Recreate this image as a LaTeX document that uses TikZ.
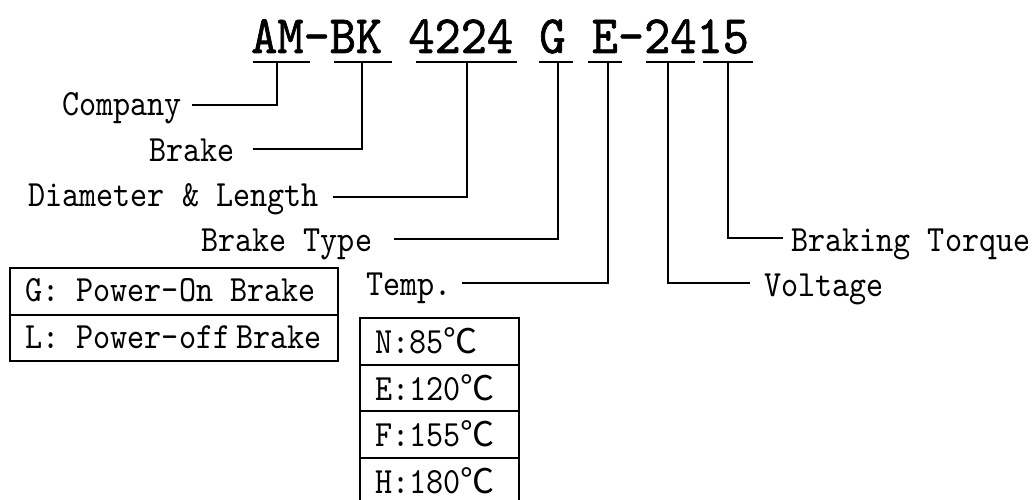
\documentclass[tikz,border=0pt]{standalone}
\usepackage{fontspec}
\newfontfamily\titlef{lmmono10-regular.otf}[FakeStretch=0.924,FakeBold=1.2]
\newfontfamily\bodyf{lmmono10-regular.otf}[FakeStretch=0.88]
\newfontfamily\cjkf{Noto Sans CJK SC}
\newcommand\degC{{\cjkf\fontsize{34}{34}\selectfont ℃}}
\begin{document}
\begin{tikzpicture}[x=1pt,y=-1pt,
  lbl/.style={inner sep=0pt, anchor=base west, font=\bodyf\fontsize{37}{37}\selectfont},
  conn/.style={draw=black, line width=1.8pt},
  uline/.style={draw=black, line width=2pt},
  frame/.style={draw=black, line width=1.8pt}]
\useasboundingbox (0,0) rectangle (1036,500);

% title
\node[inner sep=0pt, anchor=base west, font=\titlef\fontsize{54}{54}\selectfont] (title) at (251,53) {AM-BK 4224 G E-2415};

% underline segments
\coordinate (a1) at (252.7,61.7); \coordinate (b1) at (310,61.7);
\coordinate (a2) at (334,61.7);   \coordinate (b2) at (391.7,61.7);
\coordinate (a3) at (416,61.7);   \coordinate (b3) at (517,61.7);
\coordinate (a4) at (539,61.7);   \coordinate (b4) at (573,61.7);
\coordinate (a5) at (588,61.7);   \coordinate (b5) at (621.7,61.7);
\coordinate (a6) at (646,61.7);   \coordinate (b6) at (695,61.7);
\coordinate (a7) at (703,61.7);   \coordinate (b7) at (753,61.7);
\foreach \i in {1,...,7} { \draw[uline] (a\i) -- (b\i); }

% tick points on underlines
\coordinate (t1) at (276.7,61.7);
\coordinate (t2) at (361.7,61.7);
\coordinate (t3) at (466.7,61.7);
\coordinate (t4) at (557.7,61.7);
\coordinate (t5) at (607.7,61.7);
\coordinate (t6) at (668,61.7);
\coordinate (t7) at (727.7,61.7);

% joints
\coordinate (j1) at (276.7,105);
\coordinate (j2) at (361.7,149);
\coordinate (j3) at (466.7,196.7);
\coordinate (j4) at (557.7,239);
\coordinate (j5) at (607.7,283);
\coordinate (j6) at (668,283);
\coordinate (j7) at (727.7,238);

% labels
\node[lbl] (company) at (62,115.7) {Company};
\node[lbl] (brake) at (149,161) {Brake};
\node[lbl] (diam) at (28,206) {Diameter \& Length};
\node[lbl] (btype) at (201,251) {Brake Type};
\node[lbl] (temp) at (366,295) {Temp.};
\node[lbl] (torque) at (791,251.7) {Braking Torque};
\node[lbl] (volt) at (764,296.7) {Voltage};

% connectors
\draw[conn] ([xshift=10pt]company.east |- j1) -- (j1) -- (t1);
\draw[conn] ([xshift=18pt]brake.east |- j2) -- (j2) -- (t2);
\draw[conn] ([xshift=14pt]diam.east |- j3) -- (j3) -- (t3);
\draw[conn] ([xshift=22pt]btype.east |- j4) -- (j4) -- (t4);
\draw[conn] ([xshift=10pt]temp.east |- j5) -- (j5) -- (t5);
\draw[conn] ([xshift=-14pt]volt.west |- j6) -- (j6) -- (t6);
\draw[conn] ([xshift=-8pt]torque.west |- j7) -- (j7) -- (t7);

% brake type box
\draw[frame] (10,267.7) rectangle (338,361);
\draw[frame] (10,315) -- (338,315);
\node[lbl] (gon) at (25,301.7) {G: Power-On Brake};
\node[lbl] (loff) at (25,348.3) {L: Power-off\hspace*{6pt}Brake};

% temperature table
\draw[frame] (360,317.7) rectangle (519,506);
\draw[frame] (360,365) -- (519,365);
\draw[frame] (360,411) -- (519,411);
\draw[frame] (360,458) -- (519,458);
\node[lbl] (tn) at (375,353.3) {N:85\degC};
\node[lbl] (te) at (375,400) {E:120\degC};
\node[lbl] (tf) at (375,446.7) {F:155\degC};
\node[lbl] (th) at (375,493.3) {H:180\degC};
\end{tikzpicture}
\end{document}
